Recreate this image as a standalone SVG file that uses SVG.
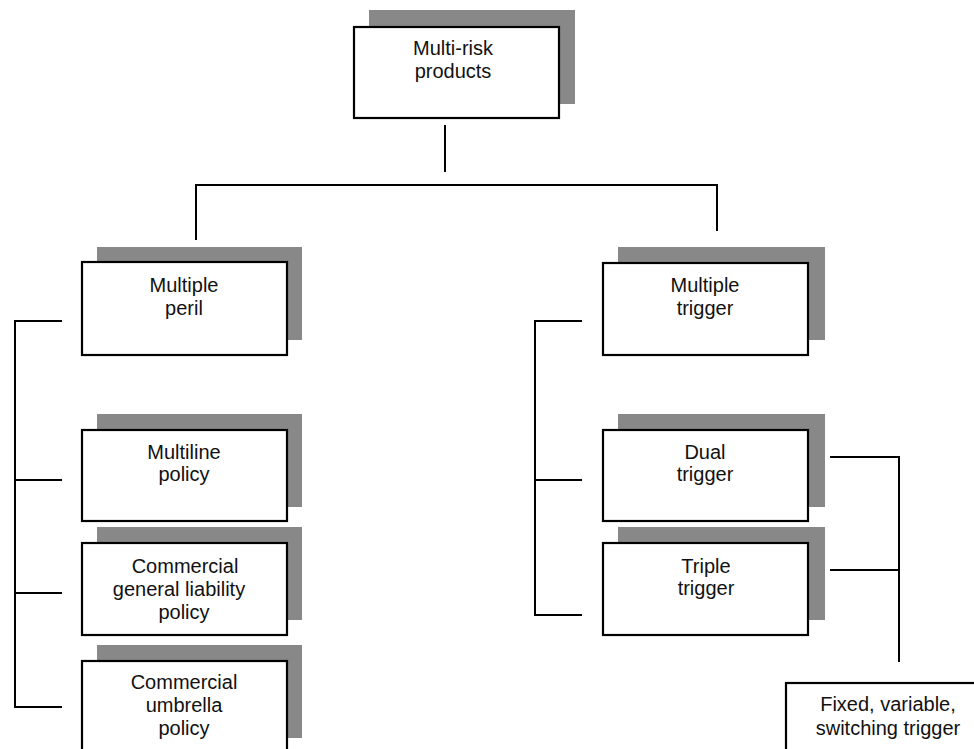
<svg xmlns="http://www.w3.org/2000/svg" width="974" height="749" viewBox="0 0 974 749">
  <style>
    .shadow { fill: #888888; }
    .box { fill: #ffffff; stroke: #000000; stroke-width: 2.2; }
    .label { font-family: "Liberation Sans", Arial, sans-serif; font-size: 20px; fill: #111111; text-anchor: middle; }
    .wire { fill: none; stroke: #000000; stroke-width: 2; }
  </style>
  <rect width="974" height="749" fill="#ffffff"/>

  <!-- connectors -->
  <g id="connectors" class="wire">
    <path d="M445 125 V172"/>
    <path d="M196 240 V185 H717 V231"/>
    <path d="M62 321 H15 V707 H62"/>
    <path d="M15 480 H62"/>
    <path d="M15 593 H62"/>
    <path d="M582 321 H535 V615 H582"/>
    <path d="M535 480 H582"/>
    <path d="M830 457 H899 V662"/>
    <path d="M830 570 H899"/>
  </g>

  <g id="multi-risk">
    <rect class="shadow" x="369" y="10" width="206" height="94"/>
    <rect class="box" x="354" y="27" width="205" height="91"/>
    <text class="label" x="453" y="55">Multi-risk</text>
    <text class="label" x="453" y="78">products</text>
  </g>

  <g id="multiple-peril">
    <rect class="shadow" x="97" y="247" width="205" height="93"/>
    <rect class="box" x="82" y="262" width="205" height="93"/>
    <text class="label" x="184" y="292">Multiple</text>
    <text class="label" x="184" y="315">peril</text>
  </g>

  <g id="multiline-policy">
    <rect class="shadow" x="97" y="414" width="205" height="93"/>
    <rect class="box" x="82" y="430" width="205" height="91"/>
    <text class="label" x="184" y="459">Multiline</text>
    <text class="label" x="184" y="481">policy</text>
  </g>

  <g id="commercial-general-liability">
    <rect class="shadow" x="97" y="527" width="205" height="93"/>
    <rect class="box" x="82" y="543" width="205" height="92"/>
    <text class="label" x="185" y="573">Commercial</text>
    <text class="label" x="179" y="596">general liability</text>
    <text class="label" x="184" y="619">policy</text>
  </g>

  <g id="commercial-umbrella">
    <rect class="shadow" x="97" y="645" width="205" height="93"/>
    <rect class="box" x="82" y="661" width="205" height="100"/>
    <text class="label" x="184" y="689">Commercial</text>
    <text class="label" x="184" y="712">umbrella</text>
    <text class="label" x="184" y="735">policy</text>
  </g>

  <g id="multiple-trigger">
    <rect class="shadow" x="618" y="247" width="207" height="93"/>
    <rect class="box" x="603" y="263" width="205" height="92"/>
    <text class="label" x="705" y="292">Multiple</text>
    <text class="label" x="705" y="315">trigger</text>
  </g>

  <g id="dual-trigger">
    <rect class="shadow" x="618" y="414" width="207" height="93"/>
    <rect class="box" x="603" y="430" width="205" height="91"/>
    <text class="label" x="705" y="459">Dual</text>
    <text class="label" x="705" y="481">trigger</text>
  </g>

  <g id="triple-trigger">
    <rect class="shadow" x="618" y="527" width="207" height="93"/>
    <rect class="box" x="603" y="543" width="205" height="92"/>
    <text class="label" x="706" y="573">Triple</text>
    <text class="label" x="706" y="595">trigger</text>
  </g>

  <g id="fixed-variable-switching">
    <rect class="box" x="786" y="683" width="204" height="80"/>
    <text class="label" x="888" y="711">Fixed, variable,</text>
    <text class="label" x="888" y="735">switching trigger</text>
  </g>
</svg>
